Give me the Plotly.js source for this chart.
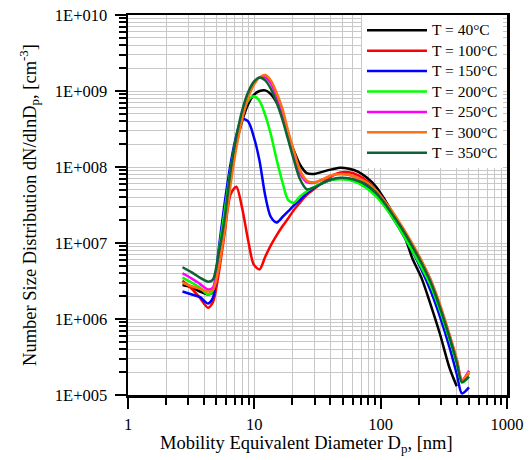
<!DOCTYPE html>
<html>
<head>
<meta charset="utf-8">
<script src="https://cdn.plot.ly/plotly-3.0.1.min.js"></script>
<style>
  html, body { margin: 0; padding: 0; background: #fff; }
  #chart { width: 531px; height: 460px; }
</style>
</head>
<body>
<div id="chart"></div>
<script>
// Mobility equivalent diameter grid, nm
const diameter = [2.7, 3.2, 3.7, 4.3, 4.7, 5.2, 5.8, 6.5, 7.2, 8.0,
  8.9, 9.9, 11.0, 12.2, 13.5, 15.0, 16.7, 18.5, 20.5, 23,
  26, 30, 35, 41, 48, 56, 66, 78, 92, 108,
  128, 150, 178, 210, 250, 295, 350, 400, 440, 500];

// Number size distribution dN/dlnDp, cm^-3, one array per temperature
const n40 = [2.8e6, 2.6e6, 2.3e6, 2.1e6, 2.3e6, 5.6e6, 1.9e7, 7.6e7, 2.0e8, 4.0e8,
  6.6e8, 8.9e8, 1.0e9, 1.02e9, 9.1e8, 7.1e8, 4.6e8, 2.6e8, 1.66e8, 1.07e8,
  8.3e7, 8.1e7, 8.7e7, 9.3e7, 9.8e7, 9.5e7, 8.7e7, 7.2e7, 5.5e7, 3.7e7,
  2.3e7, 1.41e7, 6.3e6, 3.5e6, 1.5e6, 6.3e5, 2.3e5, 1.3e5, null, null];

const n100 = [3.2e6, 2.5e6, 1.9e6, 1.41e6, 1.66e6, 3.8e6, 1.29e7, 4.4e7, 5.5e7, 2.9e7,
  1.12e7, 5.2e6, 4.5e6, 6.6e6, 9.3e6, 1.26e7, 1.66e7, 2.1e7, 2.7e7, 3.4e7,
  4.3e7, 5.2e7, 6.3e7, 7.6e7, 8.5e7, 8.5e7, 7.8e7, 6.5e7, 4.9e7, 3.5e7,
  2.3e7, 1.48e7, 9.1e6, 5.5e6, 3.0e6, 1.41e6, 5.9e5, 2.8e5, 1.55e5, 1.95e5];

const n150 = [2.3e6, 2.1e6, 1.95e6, 1.6e6, 1.9e6, 7.9e6, 3.2e7, 1.12e8, 2.6e8, 4.3e8,
  4.0e8, 2.5e8, 1.2e8, 4.2e7, 2.2e7, 1.86e7, 2.2e7, 2.6e7, 3.1e7, 3.7e7,
  4.5e7, 5.4e7, 6.2e7, 6.8e7, 7.1e7, 6.9e7, 6.3e7, 5.5e7, 4.3e7, 3.1e7,
  2.0e7, 1.29e7, 7.8e6, 4.5e6, 2.3e6, 1.07e6, 4.3e5, 1.9e5, 1.05e5, 1.26e5];

const n200 = [3.5e6, 3.0e6, 2.6e6, 2.1e6, 2.4e6, 7.1e6, 2.5e7, 9.3e7, 2.4e8, 4.8e8,
  7.4e8, 8.5e8, 7.4e8, 4.8e8, 2.7e8, 1.26e8, 6.3e7, 3.7e7, 3.4e7, 4.1e7,
  4.8e7, 5.5e7, 6.2e7, 6.8e7, 6.9e7, 6.8e7, 6.2e7, 5.2e7, 4.1e7, 3.0e7,
  2.0e7, 1.29e7, 7.9e6, 4.8e6, 2.7e6, 1.29e6, 5.4e5, 2.6e5, 1.45e5, 1.74e5];

const n250 = [4.0e6, 3.4e6, 2.9e6, 2.45e6, 2.6e6, 5.6e6, 1.66e7, 7.1e7, 2.0e8, 4.7e8,
  8.5e8, 1.26e9, 1.51e9, 1.51e9, 1.26e9, 8.5e8, 5.0e8, 2.7e8, 1.48e8, 8.3e7,
  6.3e7, 6.2e7, 6.9e7, 7.8e7, 8.1e7, 7.9e7, 7.2e7, 6.2e7, 4.9e7, 3.5e7,
  2.3e7, 1.55e7, 9.5e6, 5.8e6, 3.2e6, 1.48e6, 6.2e5, 2.9e5, 1.58e5, 2.1e5];

const n300 = [3.0e6, 2.7e6, 2.5e6, 2.3e6, 2.4e6, 4.5e6, 1.41e7, 6.0e7, 1.78e8, 4.2e8,
  7.9e8, 1.2e9, 1.51e9, 1.62e9, 1.38e9, 9.5e8, 5.8e8, 3.0e8, 1.66e8, 9.1e7,
  6.6e7, 6.3e7, 6.9e7, 7.8e7, 8.1e7, 7.9e7, 7.2e7, 6.2e7, 4.9e7, 3.5e7,
  2.4e7, 1.58e7, 9.8e6, 5.9e6, 3.2e6, 1.55e6, 6.3e5, 3.0e5, 1.58e5, 2.0e5];

const n350 = [4.8e6, 4.1e6, 3.5e6, 3.1e6, 3.3e6, 7.1e6, 2.0e7, 9.3e7, 2.5e8, 5.5e8,
  9.5e8, 1.32e9, 1.51e9, 1.38e9, 1.07e9, 7.1e8, 4.2e8, 2.3e8, 1.26e8, 6.9e7,
  5.1e7, 5.4e7, 6.2e7, 6.9e7, 7.2e7, 7.1e7, 6.6e7, 5.8e7, 4.6e7, 3.3e7,
  2.2e7, 1.48e7, 9.1e6, 5.5e6, 3.0e6, 1.41e6, 5.8e5, 2.7e5, 1.48e5, 1.74e5];

const seriesNames = ['T = 40°C', 'T = 100°C', 'T = 150°C', 'T = 200°C',
  'T = 250°C', 'T = 300°C', 'T = 350°C'];
const seriesValues = [n40, n100, n150, n200, n250, n300, n350];
const seriesColors = ['#000000', '#ff0000', '#0000ff', '#00ff00',
  '#ff00ff', '#ff7010', '#0b6434'];

// Axis tick labels and titles
const xTickVals = [1, 10, 100, 1000];
const xTickText = ['1', '10', '100', '1000'];
const yTickVals = [1e5, 1e6, 1e7, 1e8, 1e9, 1e10];
const yTickText = ['1E+005', '1E+006', '1E+007', '1E+008', '1E+009', '1E+010'];
const xTitle = 'Mobility Equivalent Diameter D<sub>p</sub>, [nm]';
const yTitle = 'Number Size Distribution dN/dlnD<sub>p</sub>, [cm<sup>-3</sup>]';

// Minor ticks at 2..9 within each decade
function minorTicks(lo, hi) {
  const out = [];
  for (let e = lo; e < hi; e++) {
    for (let m = 2; m <= 9; m++) out.push(m * Math.pow(10, e));
  }
  return out;
}

const FONT = 'Liberation Serif';
const GRID = '#c8c8c8';

// Legend rows are kept compact: the row pitch follows the small legend
// font size while the entry text itself is drawn at full size.
const traces = seriesValues.map((vals, i) => ({
  x: diameter,
  y: vals,
  type: 'scatter',
  mode: 'lines',
  name: '<span style="font-size:15.5px">' + seriesNames[i] + '</span>',
  line: { color: seriesColors[i], width: 2.5, shape: 'spline', smoothing: 0.8 },
  connectgaps: false
}));

const axisCommon = {
  type: 'log',
  ticks: 'outside',
  ticklen: 11,
  tickwidth: 2,
  tickcolor: '#000',
  showline: true,
  linewidth: 2.5,
  linecolor: '#000',
  mirror: true,
  showgrid: true,
  gridcolor: GRID,
  gridwidth: 1,
  zeroline: false,
  tickfont: { family: FONT, size: 16.5, color: '#000' }
};

const layout = {
  width: 531,
  height: 460,
  margin: { l: 128, r: 24, t: 15, b: 65 },
  paper_bgcolor: '#fff',
  plot_bgcolor: '#fff',
  font: { family: FONT, color: '#000' },
  showlegend: true,
  legend: {
    x: 0.9894, xanchor: 'right', y: 1, yanchor: 'top',
    bgcolor: '#fff', borderwidth: 0,
    font: { family: FONT, size: 13.4, color: '#000' },
    itemwidth: 60,
    tracegroupgap: 0
  },
  xaxis: Object.assign({}, axisCommon, {
    range: [0, 3],
    tickmode: 'array',
    tickvals: xTickVals,
    ticktext: xTickText,
    ticklabelstandoff: 2,
    minor: { tickmode: 'array', tickvals: minorTicks(0, 3), ticks: 'outside', ticklen: 7,
      tickwidth: 2, tickcolor: '#000', showgrid: true, gridcolor: GRID, gridwidth: 1 }
  }),
  yaxis: Object.assign({}, axisCommon, {
    range: [5, 10],
    tickmode: 'array',
    tickvals: yTickVals,
    ticktext: yTickText,
    ticklabelstandoff: 4,
    minor: { tickmode: 'array', tickvals: minorTicks(5, 10), ticks: 'outside', ticklen: 7,
      tickwidth: 2, tickcolor: '#000', showgrid: true, gridcolor: GRID, gridwidth: 1 },
    title: { text: yTitle, font: { family: FONT, size: 18.5, color: '#000' }, standoff: 14 }
  }),
  // x-axis title, set slightly left of the plot centre
  annotations: [{
    text: xTitle,
    xref: 'paper', yref: 'paper',
    x: 0.4715, y: -0.13,
    xanchor: 'center', yanchor: 'middle',
    showarrow: false,
    font: { family: FONT, size: 18.5, color: '#000' }
  }]
};

Plotly.newPlot('chart', traces, layout, { staticPlot: true, displayModeBar: false });
</script>
</body>
</html>
